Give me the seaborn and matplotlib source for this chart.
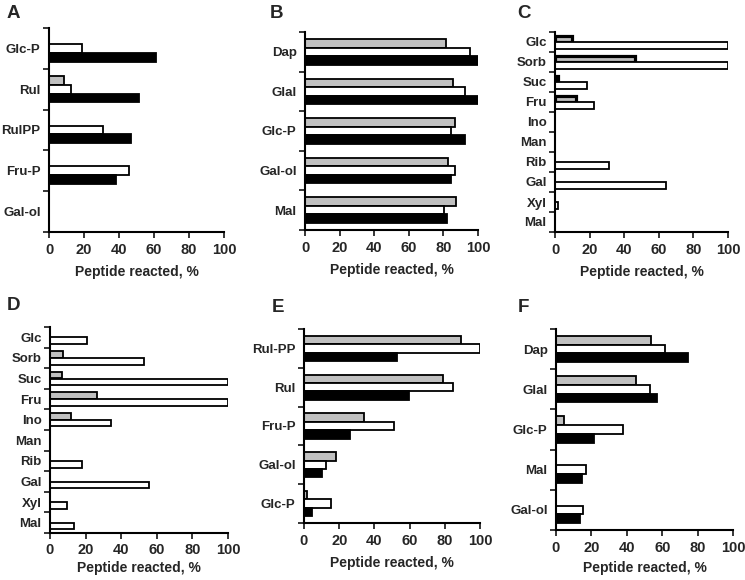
import numpy as np
import pandas as pd
import matplotlib
matplotlib.use('Agg')
import matplotlib.pyplot as plt
import seaborn as sns

# panel A
a_cats = ['Glc-P', 'Rul', 'RulPP', 'Fru-P', 'Gal-ol']
a_gray = [0, 8.6, 0, 0, 0]
a_white = [19, 12.8, 30.8, 45.6, 0]
a_black = [61.3, 51.5, 46.7, 38.5, 0]

# panel B
b_cats = ['Dap', 'Glal', 'Glc-P', 'Gal-ol', 'Mal']
b_gray = [81.7, 85.6, 86.5, 82.9, 87.1]
b_white = [95.6, 92.3, 84.2, 86.5, 80.4]
b_black = [100, 100, 92.3, 84.6, 82.3]

# panel C
c_cats = ['Glc', 'Sorb', 'Suc', 'Fru', 'Ino', 'Man', 'Rib', 'Gal', 'Xyl', 'Mal']
c_gray = [9.6, 46, 2, 12, 0, 0, 0, 0, 0, 0]
c_white = [100, 100, 18.3, 22.5, 0, 0, 31, 64, 1.5, 0]

# panel D
d_cats = ['Glc', 'Sorb', 'Suc', 'Fru', 'Ino', 'Man', 'Rib', 'Gal', 'Xyl', 'Mal']
d_gray = [0, 7.5, 6.9, 26.2, 12, 0, 0, 0, 0, 0]
d_white = [20.9, 52.9, 100, 100, 34, 0, 18, 55.5, 9.3, 13.5]

# panel E
e_cats = ['Rul-PP', 'Rul', 'Fru-P', 'Gal-ol', 'Glc-P']
e_gray = [89, 79, 34.3, 18, 1.5]
e_white = [100, 84.4, 50.9, 12.4, 15.2]
e_black = [53, 59.6, 26.3, 10.1, 4.8]

# panel F
f_cats = ['Dap', 'Glal', 'Glc-P', 'Mal', 'Gal-ol']
f_gray = [53.4, 45.1, 4.5, 0, 0]
f_white = [61.8, 53.2, 38, 16.7, 15]
f_black = [74.6, 57.3, 21.6, 14.5, 13.5]

colors = {'gray': '#c0c0c0', 'white': 'white', 'black': 'black'}

sns.set_style('white')
plt.rcParams['font.family'] = ['Liberation Sans', 'DejaVu Sans']
plt.rcParams['font.weight'] = 'bold'

fig = plt.figure(figsize=(7.45, 5.8), dpi=100)
W, H = 745, 580


def add_axes(x0, x1, top, bottom):
    return fig.add_axes([x0 / W, 1 - bottom / H, (x1 - x0) / W, (bottom - top) / H])


def panel(ax, letter, lx, ly, cats, series, width, gray_lw=1.3, tpad=4, lpad=6):
    rows = []
    for name, vals in series.items():
        for c, v in zip(cats, vals):
            rows.append({'sugar': c, 'value': v, 'series': name})
    df = pd.DataFrame(rows)
    sns.barplot(data=df, x='value', y='sugar', hue='series', orient='h',
                order=cats, hue_order=list(series.keys()), palette=colors,
                edgecolor='black', linewidth=1.3, width=width, legend=False,
                ax=ax)
    for p in ax.patches:
        if p.get_width() == 0:
            p.set_visible(False)
        fc = p.get_facecolor()[0]
        if 0.5 < fc < 0.9:
            p.set_linewidth(gray_lw)
    n = len(cats)
    ax.set_xlim(0, 100)
    ax.set_ylim(n - 0.5, -0.5)
    ax.set_xticks([0, 20, 40, 60, 80, 100])
    ax.set_yticks(np.arange(-0.5, n, 1))
    ax.set_yticklabels([])
    ax.set_yticks(np.arange(n), minor=True)
    ax.set_yticklabels(cats, minor=True, fontsize=9.5, fontweight='bold')
    ax.tick_params(axis='y', which='minor', length=0, pad=6)
    ax.tick_params(axis='y', which='major', length=4, width=1.3, direction='out', left=True)
    ax.tick_params(axis='x', length=4, width=1.3, direction='out', bottom=True,
                   labelsize=10.5, pad=tpad)
    for lab in ax.get_xticklabels():
        lab.set_fontweight('bold')
    ax.set_ylabel('')
    ax.set_xlabel('Peptide reacted, %', fontsize=10, fontweight='bold', labelpad=lpad)
    for s in ['top', 'right']:
        ax.spines[s].set_visible(False)
    for s in ['left', 'bottom']:
        ax.spines[s].set_linewidth(1.5)
        ax.spines[s].set_color('black')
    fig.text(lx / W, 1 - ly / H, letter, fontsize=13.5, fontweight='bold',
             va='baseline', ha='left')


axA = add_axes(49, 224, 28, 232)
panel(axA, 'A', 7, 18, a_cats, {'gray': a_gray, 'white': a_white, 'black': a_black}, 0.65)
axB = add_axes(305, 478, 32, 230)
panel(axB, 'B', 270, 18, b_cats, {'gray': b_gray, 'white': b_white, 'black': b_black}, 0.65)
axC = add_axes(555, 728, 32, 232)
panel(axC, 'C', 517, 18, c_cats, {'gray': c_gray, 'white': c_white}, 0.65, gray_lw=2.3)
axD = add_axes(50, 228, 327, 533)
panel(axD, 'D', 7, 310, d_cats, {'gray': d_gray, 'white': d_white}, 0.65, tpad=3, lpad=3)
axE = add_axes(304, 480, 329, 523)
panel(axE, 'E', 272, 312, e_cats, {'gray': e_gray, 'white': e_white, 'black': e_black}, 0.65)
axF = add_axes(556, 733, 329, 530)
panel(axF, 'F', 518, 312, f_cats, {'gray': f_gray, 'white': f_white, 'black': f_black}, 0.65, lpad=4)

fig.savefig('out.png', dpi=100)
